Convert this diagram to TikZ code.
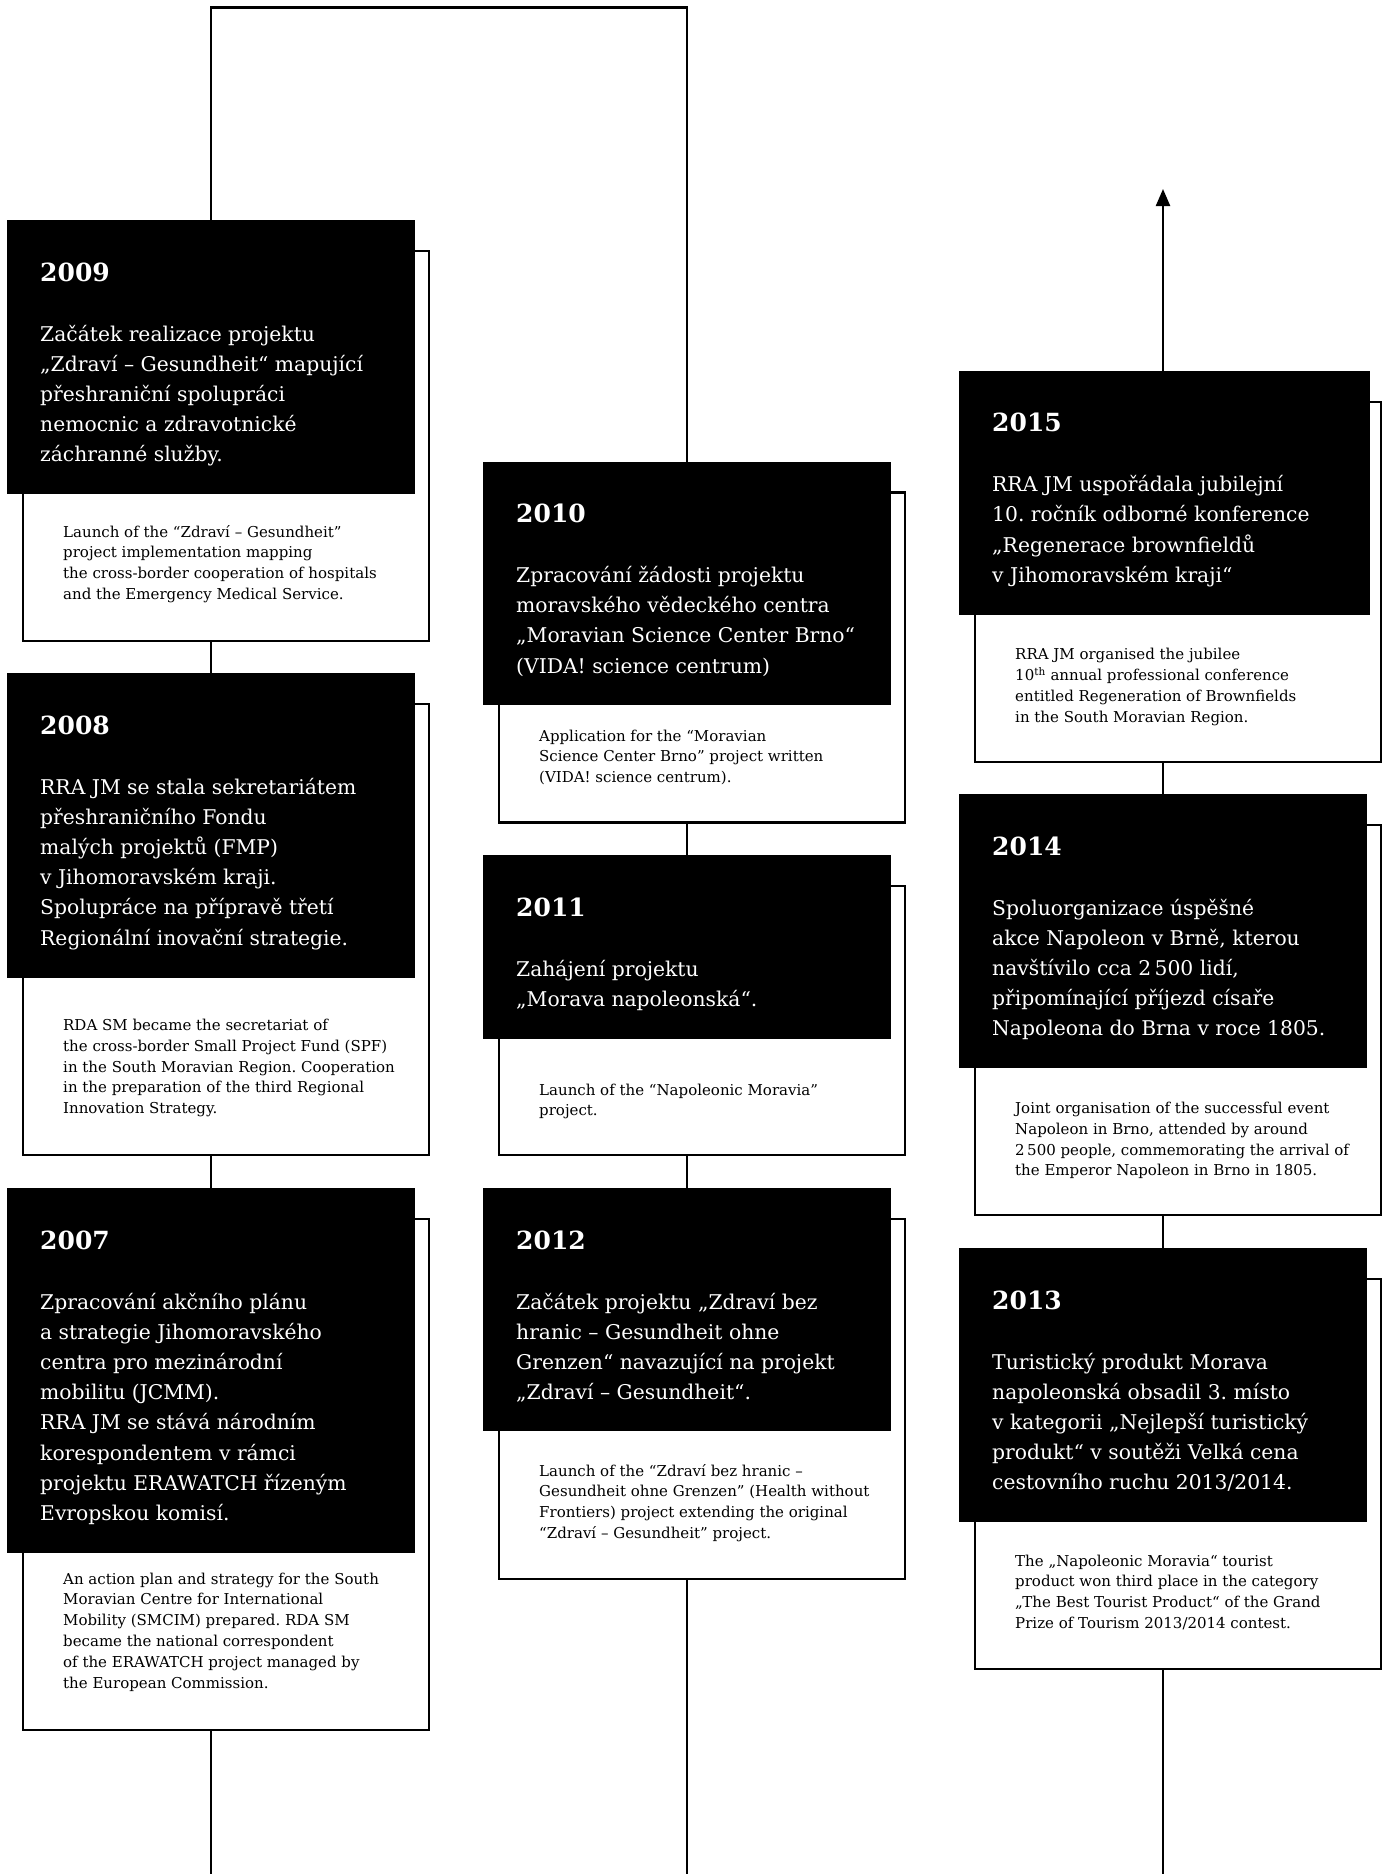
\documentclass[tikz,border=0pt]{standalone}
\usepackage{fontspec}
\setmainfont{DejaVu Serif}
\usetikzlibrary{arrows.meta}
\frenchspacing
\newcommand\czf{\fontsize{20.3}{30.2}\selectfont}
\newcommand\enf{\fontsize{15}{20.8}\selectfont}
\newcommand\yrf{\fontsize{25}{30}\selectfont\bfseries}
\newcommand\Rw[1]{\hbox{#1}}
\newcommand\bw{408}
\tikzset{
  blackbox/.style={fill=black, draw=none, inner sep=0pt, outer sep=0pt, anchor=north west},
  whitebox/.style={fill=white, draw=black, line width=2.3pt, inner sep=0pt, outer sep=0pt, anchor=north west, minimum width=406pt},
  yeartext/.style={text=white, font=\yrf, inner sep=0pt, anchor=base west},
  cztext/.style={text=white, font=\czf, inner sep=0pt, anchor=base west},
  entext/.style={text=black, font=\enf, inner sep=0pt, anchor=base west},
  link/.style={line width=2.3pt, draw=black, line join=miter}
}
% #1 name, #2 x, #3 top y, #4 black height, #5 white bottom, #6 year, #7 czech, #8 english offset, #9 english
\newcommand\entry[9]{%
  \node[whitebox, minimum height={#5pt-#3pt-31pt}] (w#1) at (#2+16,#3+31) {};
  \node[blackbox, minimum width=\bw pt, minimum height=#4pt] (b#1) at (#2,#3) {};
  \node[yeartext] (y#1) at ([xshift=33pt,yshift=-61pt]b#1.north west) {#6};
  \node[cztext] (c#1) at ([xshift=33pt,yshift=-121pt]b#1.north west) {\vtop{#7}};
  \node[entext] (e#1) at ([xshift=56pt,yshift=-#8pt]b#1.south west) {\vtop{#9}};
}
\begin{document}
\begin{tikzpicture}[x=1pt,y=-1pt]
\useasboundingbox (0,0) rectangle (1389,1874);
\fill[white] (0,0) rectangle (1389,1874);
\coordinate (top) at (0,7.6);
\coordinate (bottom) at (0,1876);
\coordinate (tip) at (0,189);

% left column
\entry{2009}{7}{220}{274}{641}{2009}{%
\Rw{Začátek realizace projektu}%
\Rw{„Zdraví – Gesundheit“ mapující}%
\Rw{přeshraniční spolupráci}%
\Rw{nemocnic a zdravotnické}%
\Rw{záchranné služby.}}{43}{%
\Rw{Launch of the “Zdraví – Gesundheit”}%
\Rw{project implementation mapping}%
\Rw{the cross-border cooperation of hospitals}%
\Rw{and the Emergency Medical Service.}}

\entry{2008}{7}{673}{305}{1155}{2008}{%
\Rw{RRA JM se stala sekretariátem}%
\Rw{přeshraničního Fondu}%
\Rw{malých projektů (FMP)}%
\Rw{v Jihomoravském kraji.}%
\Rw{Spolupráce na přípravě třetí}%
\Rw{Regionální inovační strategie.}}{52.5}{%
\Rw{RDA SM became the secretariat of}%
\Rw{the cross-border Small Project Fund (SPF)}%
\Rw{in the South Moravian Region. Cooperation}%
\Rw{in the preparation of the third Regional}%
\Rw{Innovation Strategy.}}

\entry{2007}{7}{1188}{365}{1730}{2007}{%
\Rw{Zpracování akčního plánu}%
\Rw{a strategie Jihomoravského}%
\Rw{centra pro mezinárodní}%
\Rw{mobilitu (JCMM).}%
\Rw{RRA JM se stává národním}%
\Rw{korespondentem v rámci}%
\Rw{projektu ERAWATCH řízeným}%
\Rw{Evropskou komisí.}}{31}{%
\Rw{An action plan and strategy for the South}%
\Rw{Moravian Centre for International}%
\Rw{Mobility (SMCIM) prepared. RDA SM}%
\Rw{became the national correspondent}%
\Rw{of the ERAWATCH project managed by}%
\Rw{the European Commission.}}

% middle column
\entry{2010}{483}{461.5}{243.5}{822.5}{2010}{%
\Rw{Zpracování žádosti projektu}%
\Rw{moravského vědeckého centra}%
\Rw{„Moravian Science Center Brno“}%
\Rw{(VIDA! science centrum)}}{36}{%
\Rw{Application for the “Moravian}%
\Rw{Science Center Brno” project written}%
\Rw{(VIDA! science centrum).}}

\entry{2011}{483}{855}{184}{1155}{2011}{%
\Rw{Zahájení projektu}%
\Rw{„Morava napoleonská“.}}{56}{%
\Rw{Launch of the “Napoleonic Moravia”}%
\Rw{project.}}

\entry{2012}{483}{1188}{243}{1579}{2012}{%
\Rw{Začátek projektu „Zdraví bez}%
\Rw{hranic – Gesundheit ohne}%
\Rw{Grenzen“ navazující na projekt}%
\Rw{„Zdraví – Gesundheit“.}}{45}{%
\Rw{Launch of the “Zdraví bez hranic –}%
\Rw{Gesundheit ohne Grenzen” (Health without}%
\Rw{Frontiers) project extending the original}%
\Rw{“Zdraví – Gesundheit” project.}}

% right column
\renewcommand\bw{411}
\entry{2015}{959}{370.7}{244}{762}{2015}{%
\Rw{RRA JM uspořádala jubilejní}%
\Rw{10. ročník odborné konference}%
\Rw{„Regenerace brownfieldů}%
\Rw{v Jihomoravském kraji“}}{45}{%
\Rw{RRA JM organised the jubilee}%
\Rw{10\textsuperscript{th} annual professional conference}%
\Rw{entitled Regeneration of Brownfields}%
\Rw{in the South Moravian Region.}}
\renewcommand\bw{408}

\entry{2014}{959}{794}{274}{1215}{2014}{%
\Rw{Spoluorganizace úspěšné}%
\Rw{akce Napoleon v Brně, kterou}%
\Rw{navštívilo cca 2\,500 lidí,}%
\Rw{připomínající příjezd císaře}%
\Rw{Napoleona do Brna v roce 1805.}}{45.5}{%
\Rw{Joint organisation of the successful event}%
\Rw{Napoleon in Brno, attended by around}%
\Rw{2\,500 people, commemorating the arrival of}%
\Rw{the Emperor Napoleon in Brno in 1805.}}

\entry{2013}{959}{1248}{274}{1669}{2013}{%
\Rw{Turistický produkt Morava}%
\Rw{napoleonská obsadil 3. místo}%
\Rw{v kategorii „Nejlepší turistický}%
\Rw{produkt“ v soutěži Velká cena}%
\Rw{cestovního ruchu 2013/2014.}}{44}{%
\Rw{The „Napoleonic Moravia“ tourist}%
\Rw{product won third place in the category}%
\Rw{„The Best Tourist Product“ of the Grand}%
\Rw{Prize of Tourism 2013/2014 contest.}}

% connectors
\draw[link] (b2009.north) |- (top -| b2010.north) -- (b2010.north);
\draw[link] (b2009.south |- w2009.south) -- (b2008.north);
\draw[link] (b2008.south |- w2008.south) -- (b2007.north);
\draw[link] (b2007.south |- w2007.south) -- (bottom -| b2007.south);
\draw[link] (b2010.south |- w2010.south) -- (b2011.north);
\draw[link] (b2011.south |- w2011.south) -- (b2012.north);
\draw[link] (b2012.south |- w2012.south) -- (bottom -| b2012.south);
\draw[link, -{Triangle[length=17pt,width=14pt]}] (b2014.north |- b2015.north) -- (tip -| b2014.north);
\draw[link] (b2014.north |- w2015.south) -- (b2014.north);
\draw[link] (b2014.south |- w2014.south) -- (b2013.north);
\draw[link] (b2013.south |- w2013.south) -- (bottom -| b2013.south);
\end{tikzpicture}
\end{document}
